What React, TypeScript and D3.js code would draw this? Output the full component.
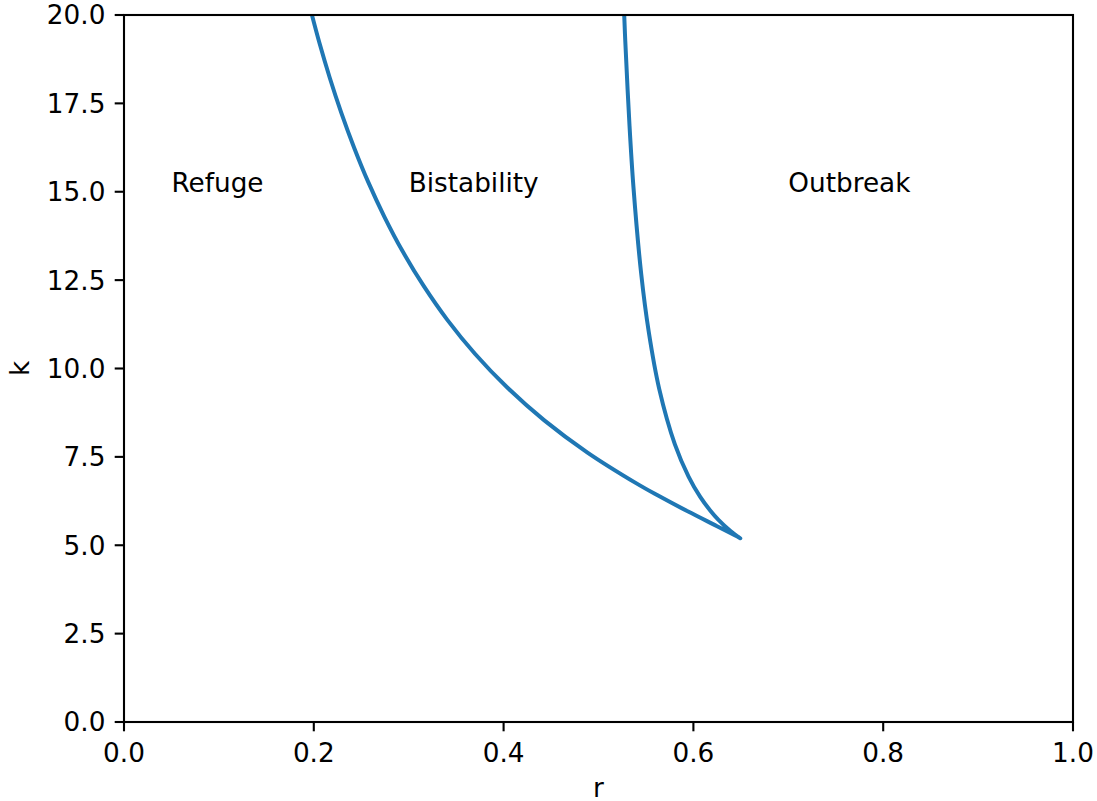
import React from "react";
import * as d3 from "d3";

const curveR = [
  0.5271, 0.5282, 0.5326, 0.5368, 0.5450, 0.5529, 0.5639, 0.5805, 0.5949, 0.6072,
  0.6177, 0.6264, 0.6391, 0.6464, 0.6495, 0.6475, 0.6400, 0.6244, 0.5945, 0.5618,
  0.5400, 0.4884, 0.4429, 0.4036, 0.3698, 0.3407, 0.3156, 0.2936, 0.2744, 0.2574,
  0.2424, 0.2289, 0.2168, 0.2059, 0.1980,
];
const curveK = [
  20.0, 19.272, 16.909, 15.141, 12.676, 11.045, 9.432, 7.855, 6.944, 6.368,
  5.983, 5.717, 5.4, 5.251, 5.196, 5.227, 5.333, 5.546, 5.952, 6.419,
  6.75, 7.622, 8.533, 9.468, 10.417, 11.376, 12.343, 13.315, 14.292, 15.271,
  16.254, 17.239, 18.225, 19.213, 20.004,
];

const regionLabels = ["Refuge", "Bistability", "Outbreak"];
const regionR = [0.05, 0.3, 0.7];
const regionK = [15, 15, 15];

const xTicks = [0.0, 0.2, 0.4, 0.6, 0.8, 1.0];
const yTicks = [0.0, 2.5, 5.0, 7.5, 10.0, 12.5, 15.0, 17.5, 20.0];

const W = 1097;
const H = 801;
const left = 124;
const right = 1073;
const top = 15;
const bottom = 722;
const FONT = "DejaVu Sans, sans-serif";
const FS = 26.3;
const TICK = 9.3;

export default function App() {
  const x = d3.scaleLinear().domain([0, 1]).range([left, right]);
  const y = d3.scaleLinear().domain([0, 20]).range([bottom, top]);
  const pts: [number, number][] = curveR.map((r, i) => [r, curveK[i]]);
  const line = d3
    .line<[number, number]>()
    .x((d) => x(d[0]))
    .y((d) => y(d[1]))
    .curve(d3.curveCatmullRom.alpha(0.5));

  return (
    <svg
      width={W}
      height={H}
      style={{ position: "absolute", left: 0, top: 0, background: "#fff" }}
      fontFamily={FONT}
    >
      <defs>
        <clipPath id="plotclip">
          <rect x={left} y={top} width={right - left} height={bottom - top} />
        </clipPath>
      </defs>
      <rect x={0} y={0} width={W} height={H} fill="#fff" />
      <path
        d={line(pts) || ""}
        fill="none"
        stroke="#1f77b4"
        strokeWidth={4}
        strokeLinecap="square"
        strokeLinejoin="round"
        clipPath="url(#plotclip)"
      />
      {regionLabels.map((t, i) => (
        <text key={t} x={x(regionR[i])} y={y(regionK[i])} fontSize={FS} fill="#000">
          {t}
        </text>
      ))}
      <rect
        x={left}
        y={top}
        width={right - left}
        height={bottom - top}
        fill="none"
        stroke="#000"
        strokeWidth={2.1}
      />
      {xTicks.map((t) => (
        <g key={"x" + t}>
          <line x1={x(t)} x2={x(t)} y1={bottom} y2={bottom + TICK} stroke="#000" strokeWidth={2.1} />
          <text x={x(t)} y={761.5} textAnchor="middle" fontSize={FS} fill="#000">
            {t.toFixed(1)}
          </text>
        </g>
      ))}
      {yTicks.map((t) => (
        <g key={"y" + t}>
          <line x1={left - TICK} x2={left} y1={y(t)} y2={y(t)} stroke="#000" strokeWidth={2.1} />
          <text
            x={left - TICK - 9.3}
            y={y(t)}
            dy="0.36em"
            textAnchor="end"
            fontSize={FS}
            fill="#000"
          >
            {t.toFixed(1)}
          </text>
        </g>
      ))}
      <text x={(left + right) / 2} y={797} textAnchor="middle" fontSize={FS} fill="#000">
        r
      </text>
      <text
        transform={`translate(29, ${(top + bottom) / 2}) rotate(-90)`}
        textAnchor="middle"
        fontSize={FS}
        fill="#000"
      >
        k
      </text>
    </svg>
  );
}
